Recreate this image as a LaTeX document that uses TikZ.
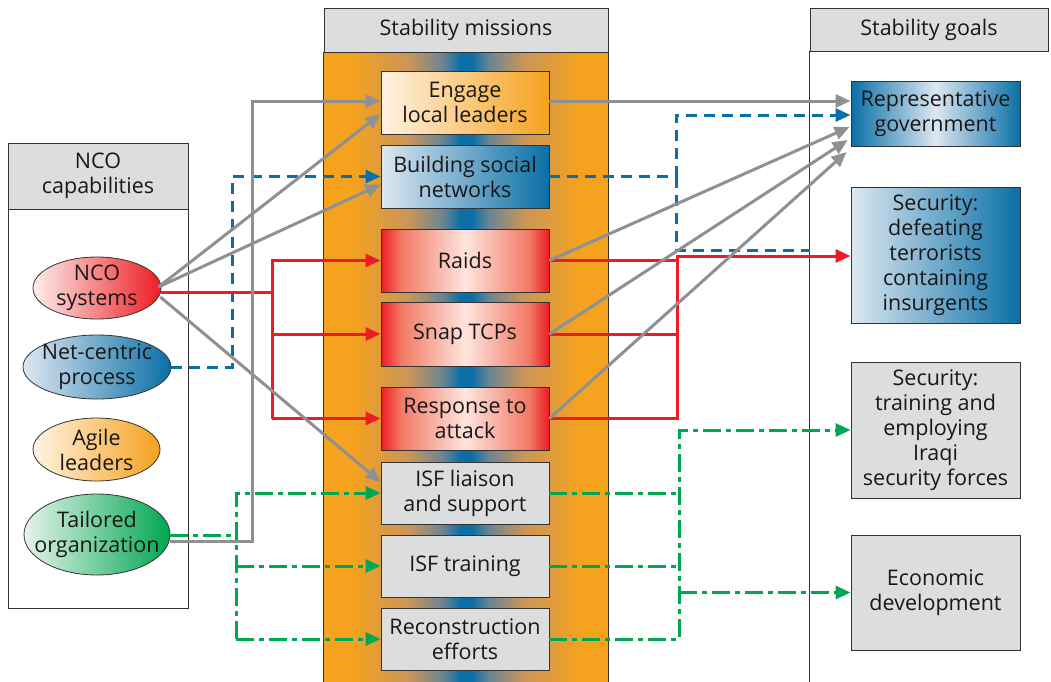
\documentclass[tikz,border=0pt]{standalone}
\usepackage{fontspec}
\setmainfont{Open Sans}
\usetikzlibrary{arrows.meta,shapes.geometric}
\definecolor{hdr}{HTML}{DCDDDE}
\definecolor{edge}{HTML}{333333}
\definecolor{txt}{HTML}{1A1718}
\definecolor{orng}{HTML}{F5A21E}
\definecolor{tanc}{HTML}{C9955A}
\definecolor{grbl}{HTML}{6A8494}
\definecolor{blu}{HTML}{0A6FA6}
\definecolor{rd}{HTML}{ED1C24}
\definecolor{salm}{HTML}{F27A66}
\definecolor{pinkl}{HTML}{FDE5DD}
\definecolor{lblue}{HTML}{DDE7F1}
\definecolor{lpink}{HTML}{FDEEEA}
\definecolor{lcream}{HTML}{FFF3E3}
\definecolor{lgreen}{HTML}{E6F4EA}
\definecolor{grayc}{HTML}{8E9093}
\definecolor{grn}{HTML}{00A651}
\pgfdeclarehorizontalshading{midshade}{100bp}{color(0bp)=(orng); color(25bp)=(orng); color(30bp)=(orng); color(40bp)=(tanc); color(46bp)=(grbl); color(49bp)=(blu); color(51bp)=(blu); color(54bp)=(grbl); color(60bp)=(tanc); color(70bp)=(orng); color(75bp)=(orng); color(100bp)=(orng)}
\pgfdeclarehorizontalshading{redshade}{100bp}{color(0bp)=(rd); color(25bp)=(rd); color(31bp)=(salm); color(50bp)=(pinkl); color(69bp)=(salm); color(75bp)=(rd); color(100bp)=(rd)}
\pgfdeclarehorizontalshading{repshade}{100bp}{color(0bp)=(blu); color(25bp)=(blu); color(50bp)=(lblue); color(75bp)=(blu); color(100bp)=(blu)}
\begin{document}
\begin{tikzpicture}[x=1pt,y=-1pt,
  every node/.style={font=\fontsize{21.5}{25}\selectfont, text=txt, align=center, inner sep=0pt},
  every label/.style={font=\fontsize{21.5}{25}\selectfont, text=txt, align=center, inner sep=0pt},
  hdrbox/.style={draw=edge, fill=hdr, line width=0.9pt},
  mbox/.style={draw=edge, line width=0.9pt, minimum width=168pt},
  gbox/.style={draw=edge, line width=0.9pt, minimum width=169pt},
  ell/.style={ellipse, draw=edge, line width=0.8pt},
  tip/.style={-{Triangle[length=15pt,width=13pt]}},
  grl/.style={draw=grayc, line width=3pt},
  bll/.style={draw=blu, line width=3pt, dash pattern=on 11pt off 7pt},
  rdl/.style={draw=rd, line width=3pt},
  gnl/.style={draw=grn, line width=3pt, dash pattern=on 18pt off 5pt on 5pt off 5pt},
]
\useasboundingbox (0,0) rectangle (1051,681);
% panels
\node[draw=edge, fill=white, line width=0.9pt, minimum width=180pt, minimum height=399pt] (capB) at (98,408.5) {};
\node[hdrbox, minimum width=180pt, minimum height=66pt] (capH) at (98,176) {NCO\\capabilities};
\node[shading=midshade, minimum width=284pt, minimum height=640pt] (misB) at (466,372) {};
\draw[edge, line width=0.9pt] (misB.north west) -- (misB.south west) (misB.north east) -- (misB.south east);
\node[hdrbox, minimum width=284pt, minimum height=44pt] (misH) at (466,30) {Stability missions};
\node[minimum width=250pt, minimum height=640pt] (goalB) at (935,371) {};
\draw[edge, line width=0.9pt] (goalB.north west) -- (goalB.south west);
\node[hdrbox, minimum width=238pt, minimum height=43pt] (goalH) at (929,29.5) {Stability goals};
% ellipses
\node[ell, left color=lpink, right color=rd, minimum width=128pt, minimum height=62pt, label={center:NCO\\systems}] (nco) at (97,288) {};
\node[ell, left color=lblue, right color=blu, minimum width=148pt, minimum height=64pt, label={center:Net-centric\\process}] (net) at (97,367) {};
\node[ell, left color=lcream, right color=orng, minimum width=127pt, minimum height=63pt, label={center:Agile\\leaders}] (agile) at (96.5,449.5) {};
\node[ell, left color=lgreen, right color=grn, minimum width=146pt, minimum height=81pt, label={center:Tailored\\organization}] (tail) at (97,534.5) {};
% mission boxes
\node[mbox, left color=lcream, right color=orng, minimum height=63pt] (eng) at (465,102.5) {Engage\\local leaders};
\node[mbox, left color=lblue, right color=blu, minimum height=63pt] (bsn) at (465,176.5) {Building social\\networks};
\node[mbox, shading=redshade, minimum height=63pt] (raids) at (465,260.5) {Raids};
\node[mbox, shading=redshade, minimum height=64pt] (snap) at (465,334) {Snap TCPs};
\node[mbox, shading=redshade, minimum height=63pt] (resp) at (465,418.5) {Response to\\attack};
\node[mbox, fill=hdr, minimum height=62pt] (isfl) at (465,493) {ISF liaison\\and support};
\node[mbox, fill=hdr, minimum height=62pt] (train) at (465,566) {ISF training};
\node[mbox, fill=hdr, minimum height=62pt] (recon) at (465,639) {Reconstruction\\efforts};
% goal boxes
\node[gbox, shading=repshade, minimum height=65pt] (rep) at (935.5,113.5) {Representative\\government};
\node[gbox, left color=lblue, right color=blu, minimum height=136pt] (sec1) at (935.5,255) {Security:\\defeating\\terrorists\\containing\\insurgents};
\node[gbox, fill=hdr, minimum height=136pt] (sec2) at (935.5,430) {Security:\\training and\\employing\\Iraqi\\security forces};
\node[gbox, fill=hdr, minimum height=115pt] (econ) at (935.5,592.5) {Economic\\development};
% helper coordinates
\coordinate (xb1) at (232,0);
\coordinate (xr1) at (272,0);
\coordinate (xg1) at (236,0);
\coordinate (xgr) at (252,0);
\coordinate (xb2) at (676,0);
\coordinate (xr2) at (677,0);
\coordinate (xg2) at (679,0);
\coordinate (bend) at (810,250);
% blue dashed
\draw[bll, tip] (net.east) -| (xb1 |- bsn.west) -- (bsn.west);
\draw[bll, tip] (bsn.east) -| ([yshift=-1.5pt]xb2 |- rep.west) -- ([yshift=-1.5pt]rep.west);
\draw[bll] (xb2 |- bsn.east) -- (xb2 |- bend) -- (bend);
% red
\draw[rdl] ([yshift=-4pt]nco.east) -- (xr1 |- 0,292);
\draw[rdl, tip] (xr1 |- resp.west) |- (raids.west);
\draw[rdl, tip] (xr1 |- snap.west) -- (snap.west);
\draw[rdl, tip] (xr1 |- resp.west) -- (resp.west);
\draw[rdl] (raids.east) -- (xr2 |- raids.east);
\draw[rdl] (snap.east) -- (xr2 |- snap.east);
\draw[rdl, tip] (resp.east) -| ([yshift=-1pt]xr2 |- sec1.west) -- ([yshift=-1pt]sec1.west);
% green
\draw[gnl] ([yshift=-1pt]tail.east) -- (xg1 |- 0,535.5);
\draw[gnl, tip] (xg1 |- recon.west) |- (isfl.west);
\draw[gnl, tip] (xg1 |- train.west) -- (train.west);
\draw[gnl, tip] (xg1 |- recon.west) -- (recon.west);
\draw[gnl] (isfl.east) -- (xg2 |- isfl.east);
\draw[gnl] (train.east) -- (xg2 |- train.east);
\draw[gnl, tip] (recon.east) -| (xg2 |- sec2.west) -- (sec2.west);
\draw[gnl, tip] (xg2 |- econ.west) -- (econ.west);
% gray
\draw[grl, tip] ([yshift=-7pt]tail.east) -| ([yshift=1.5pt]xgr |- eng.west) -- ([yshift=1.5pt]eng.west);
\draw[grl, tip] ([xshift=-3pt,yshift=1pt]nco.east) -- ([yshift=-11.5pt]eng.west);
\draw[grl, tip] ([xshift=-3pt,yshift=1pt]nco.east) -- ([yshift=-8pt]bsn.west);
\draw[grl, tip] ([xshift=-1pt,yshift=-9pt]nco.east) -- ([yshift=11pt]isfl.west);
\draw[grl, tip] ([yshift=1.5pt]eng.east) -- ([yshift=12.5pt]rep.west);
\draw[grl, tip] (raids.east) -- ([xshift=-1pt,yshift=-13.5pt]rep.west);
\draw[grl, tip] (snap.east) -- ([xshift=-3pt,yshift=-26.5pt]rep.west);
\draw[grl, tip] (resp.east) -- ([xshift=-4pt,yshift=-38.5pt]rep.west);
\end{tikzpicture}
\end{document}
